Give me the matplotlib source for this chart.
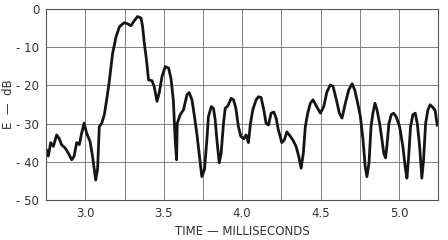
import matplotlib.pyplot as plt
from matplotlib.ticker import MultipleLocator

# time in ms, level in dB
time_ms = [2.745, 2.753, 2.764, 2.779, 2.796, 2.817, 2.834, 2.849, 2.871, 2.892,
           2.913, 2.928, 2.945, 2.962, 2.976, 2.992, 3.008, 3.030, 3.046, 3.066,
           3.078, 3.089, 3.104, 3.121, 3.136, 3.151, 3.166, 3.174, 3.196, 3.217,
           3.248, 3.269, 3.291, 3.312, 3.333, 3.355, 3.365, 3.376, 3.390, 3.403,
           3.425, 3.439, 3.457, 3.471, 3.489, 3.510, 3.531, 3.546, 3.561, 3.573,
           3.582, 3.586, 3.605, 3.626, 3.648, 3.662, 3.680, 3.696, 3.711, 3.726,
           3.743, 3.760, 3.775, 3.785, 3.803, 3.817, 3.828, 3.839, 3.854, 3.866,
           3.881, 3.892, 3.909, 3.930, 3.945, 3.960, 3.976, 3.992, 4.011, 4.025,
           4.040, 4.053, 4.068, 4.089, 4.104, 4.121, 4.138, 4.153, 4.168, 4.185,
           4.202, 4.217, 4.231, 4.253, 4.269, 4.285, 4.301, 4.323, 4.344, 4.361,
           4.376, 4.390, 4.403, 4.418, 4.435, 4.452, 4.473, 4.499, 4.520, 4.541,
           4.562, 4.580, 4.601, 4.620, 4.637, 4.658, 4.680, 4.701, 4.718, 4.737,
           4.754, 4.771, 4.785, 4.796, 4.809, 4.822, 4.834, 4.847, 4.860, 4.877,
           4.892, 4.903, 4.915, 4.924, 4.936, 4.951, 4.966, 4.983, 5.004, 5.025,
           5.040, 5.051, 5.062, 5.074, 5.089, 5.104, 5.117, 5.132, 5.146, 5.157,
           5.170, 5.185, 5.199, 5.217, 5.231, 5.244]
level_db = [-39.5, -36.9, -38.5, -35.0, -36.0, -33.0, -34.0, -35.6, -36.4, -37.8,
            -39.5, -38.6, -35.0, -35.5, -32.6, -29.9, -32.5, -34.7, -38.6, -44.8,
            -42.0, -30.8, -30.0, -27.7, -23.8, -19.5, -14.2, -11.6, -7.3, -4.7,
            -3.6, -3.9, -4.4, -3.1, -2.0, -2.4, -4.6, -9.0, -13.4, -18.6,
            -18.8, -20.3, -24.2, -22.0, -17.7, -15.1, -15.5, -18.2, -23.8, -34.3,
            -39.5, -30.0, -27.7, -26.4, -22.5, -21.9, -23.8, -28.2, -32.6, -37.8,
            -43.9, -42.0, -34.3, -28.2, -25.6, -26.0, -29.0, -34.3, -40.3, -37.8,
            -30.0, -26.0, -25.4, -23.4, -23.8, -26.0, -30.8, -33.4, -34.0, -33.0,
            -35.0, -30.0, -26.4, -23.8, -23.0, -23.2, -26.4, -30.0, -30.4, -27.3,
            -27.0, -28.6, -31.7, -35.0, -34.3, -32.2, -33.0, -34.3, -36.0, -38.6,
            -41.7, -37.8, -30.8, -27.3, -24.7, -23.8, -25.4, -27.3, -25.6, -21.7,
            -19.9, -20.3, -23.8, -27.3, -28.6, -24.7, -21.2, -19.6, -21.2, -24.7,
            -28.2, -34.3, -41.4, -43.9, -40.3, -30.8, -27.3, -24.7, -26.4, -30.0,
            -34.3, -37.8, -39.0, -35.5, -30.0, -27.7, -27.3, -28.3, -30.8, -36.0,
            -41.4, -44.3, -38.6, -30.8, -27.7, -27.3, -30.0, -36.0, -44.3, -39.5,
            -30.0, -26.4, -25.1, -25.8, -26.6, -30.4]

x_ticks = [3.0, 3.5, 4.0, 4.5, 5.0]
y_ticks = [0, -10, -20, -30, -40, -50]
y_labels = ['0', '- 10', '- 20', '- 30', '- 40', '- 50']

fig = plt.figure(figsize=(4.48, 2.4), dpi=100)
ax = fig.add_axes([0.103, 0.167, 0.875, 0.796])

ax.plot(time_ms, level_db, color='#151515', linewidth=2.0, solid_joinstyle='round')

ax.set_xlim(2.75, 5.25)
ax.set_ylim(-50, 0)
ax.set_xticks(x_ticks)
ax.set_xticklabels([f'{v:.1f}' for v in x_ticks])
ax.xaxis.set_minor_locator(MultipleLocator(0.25))
ax.set_yticks(y_ticks)
ax.set_yticklabels(y_labels)

ax.grid(True, which='both', color='#808080', linewidth=0.7)
ax.tick_params(which='both', length=0, labelsize=8.5, colors='#333333', pad=5)
for s in ax.spines.values():
    s.set_color('#555555')
    s.set_linewidth(0.8)

ax.set_xlabel('TIME \u2014 MILLISECONDS', fontsize=8.5, color='#333333', labelpad=4)
ax.set_ylabel('E  \u2014  dB', fontsize=8.5, color='#333333', labelpad=1)

fig.savefig('out.png', dpi=100, facecolor='white')
